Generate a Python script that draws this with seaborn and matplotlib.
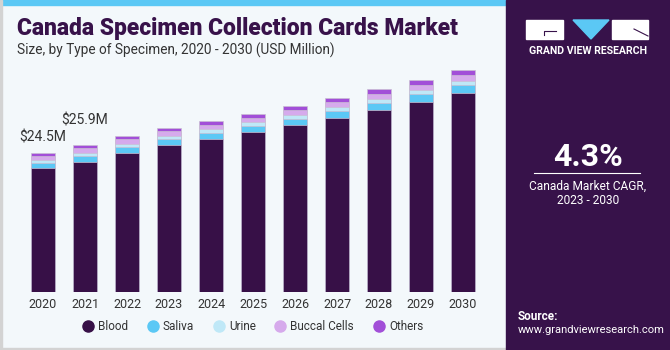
import numpy as np
import pandas as pd
import matplotlib
matplotlib.use("Agg")
import matplotlib.pyplot as plt
from matplotlib.lines import Line2D
from matplotlib.patches import Rectangle, Polygon
import seaborn as sns

years = ["2020", "2021", "2022", "2023", "2024", "2025", "2026", "2027", "2028", "2029", "2030"]
blood = [21.85, 23.02, 24.50, 25.97, 27.08, 28.26, 29.45, 30.79, 32.10, 33.56, 35.10]
saliva = [0.94, 1.00, 1.05, 1.04, 1.08, 1.10, 1.18, 1.23, 1.30, 1.38, 1.46]
urine = [0.56, 0.58, 0.60, 0.58, 0.60, 0.60, 0.63, 0.64, 0.66, 0.68, 0.70]
buccal = [0.70, 0.76, 0.80, 0.79, 0.82, 0.84, 0.90, 0.93, 0.96, 0.98, 1.00]
others = [0.45, 0.54, 0.61, 0.59, 0.62, 0.64, 0.70, 0.73, 0.78, 0.85, 0.90]
segments = ["Blood", "Saliva", "Urine", "Buccal Cells", "Others"]
colors = ["#371047", "#5bc8f5", "#bfe8f7", "#d6aaec", "#a24fd8"]
labels = {"2020": "$24.5M", "2021": "$25.9M"}
cagr = "4.3%"

W, H = 670, 350
plt.rcParams['font.family'] = ['Roboto', 'DejaVu Sans']
fig = plt.figure(figsize=(6.7, 3.5), dpi=100)
fig.patch.set_facecolor("#f3f8fb")

def fx(x):
    return x / W

def fy(y):
    return 1 - y / H

# top stripe and borders
fig.patches.append(Rectangle((0, fy(5)), fx(506), 5 / H, transform=fig.transFigure,
                             color="#5bc8f5", zorder=0))
fig.patches.append(Rectangle((0, 0), fx(2), 1, transform=fig.transFigure, color="#d3d3d3", zorder=0))
fig.patches.append(Rectangle((0, 0), fx(506), 2 / H, transform=fig.transFigure, color="#d3d3d3", zorder=0))

# right panel
fig.patches.append(Rectangle((fx(506), 0), 1 - fx(506), 1, transform=fig.transFigure,
                             color="#37124a", zorder=0))

# bottom gradient on right panel
gax = fig.add_axes([fx(506), 0, 1 - fx(506), 67 / H])
grad = np.linspace(0, 1, 100)[:, None]
top = np.array([0x3d, 0x25, 0x5e]) / 255
bot = np.array([0x55, 0xbb, 0xea]) / 255
img = top[None, None, :] * (1 - grad[..., None]) + bot[None, None, :] * grad[..., None]
img = np.repeat(img, 10, axis=1)
gax.imshow(img, aspect="auto", extent=[0, 1, 1, 0])
for k in range(14):
    gax.plot([k / 13, 0.5 + (k / 13 - 0.5) * 1.4], [0, 1], color="white", alpha=0.12, lw=0.6)
for yy in np.linspace(0.05, 0.95, 9):
    gax.plot([0, 1], [yy, yy + 0.03 * np.sin(yy * 9)], color="white", alpha=0.12, lw=0.6)
gax.set_xlim(0, 1)
gax.set_ylim(1, 0)
gax.axis("off")

# main axes
ax = fig.add_axes([fx(22), 58 / H, 462 / W, 237.8 / H])
ax.set_facecolor("none")
df = pd.DataFrame({"year": years, "Blood": blood, "Saliva": saliva, "Urine": urine,
                   "Buccal Cells": buccal, "Others": others})
cum = df[segments].cumsum(axis=1)
for seg, col in reversed(list(zip(segments, colors))):
    sns.barplot(data=cum.assign(year=df["year"]), x="year", y=seg, color=col, width=0.58,
                edgecolor="#c9bfd3", linewidth=0.5, ax=ax, order=years, saturation=1)
ax.set_xlim(-0.5, 10.5)
ax.set_ylim(0, 42)
for s in ax.spines.values():
    s.set_visible(False)
ax.set_yticks([])
ax.set_xlabel("")
ax.set_ylabel("")
ax.tick_params(axis="x", length=0, pad=4, labelsize=9, labelcolor="#333333")

totals = cum["Others"].tolist()
offs = {"2020": 11.5, "2021": 18}
for i, y in enumerate(years):
    if y in labels:
        ax.annotate(labels[y], xy=(i, totals[i]), xytext=(0, offs[y]), textcoords="offset points",
                    ha="center", va="center", fontsize=10, color="#333333")

# titles
fig.text(fx(17), fy(28), "Canada Specimen Collection Cards Market", fontsize=16.5,
         fontweight="black", color="#38124a", ha="left", va="center")
fig.text(fx(17), fy(50), "Size, by Type of Specimen, 2020 - 2030 (USD Million)", fontsize=9.8,
         color="#333333", ha="left", va="center")

# legend
handles = [Line2D([0], [0], marker="o", linestyle="", markersize=8, markerfacecolor=c,
                  markeredgecolor=c) for c in colors]
fig.legend(handles, segments, loc="center", bbox_to_anchor=(fx(251), fy(327)), ncol=5,
           frameon=False, fontsize=8.5, handletextpad=0.1, columnspacing=1.35,
           handlelength=1.5, labelcolor="#333333")

# logo
fig.patches.append(Rectangle((fx(526), fy(39)), fx(37), 19 / H, transform=fig.transFigure,
                             color="white", zorder=2))
fig.patches.append(Rectangle((fx(612), fy(39)), fx(36), 19 / H, transform=fig.transFigure,
                             color="white", zorder=2))
fig.patches.append(Polygon([(fx(573), fy(20)), (fx(609), fy(20)), (fx(591), fy(39))],
                           closed=True, transform=fig.transFigure, color="#5bc8f5", zorder=2))
fig.lines.append(Line2D([fx(544), fx(544), fx(556)], [fy(35), fy(31), fy(31)],
                        transform=fig.transFigure, color="#37124a", lw=0.8, zorder=3))
fig.lines.append(Line2D([fx(634), fx(648)], [fy(29), fy(36)],
                        transform=fig.transFigure, color="#37124a", lw=0.8, zorder=3))
fig.text(fx(588), fy(51), "GRAND VIEW RESEARCH", fontsize=7.6, fontweight="bold",
         color="white", ha="center", va="center")

# CAGR
fig.text(fx(588), fy(157), cagr, fontsize=23, fontweight="bold", color="white",
         ha="center", va="center")
fig.lines.append(Line2D([fx(534), fx(640)], [fy(173), fy(173)], transform=fig.transFigure,
                        color="white", lw=0.8))
fig.text(fx(588), fy(186), "Canada Market CAGR,", fontsize=8.6, color="white",
         ha="center", va="center")
fig.text(fx(588), fy(201), "2023 - 2030", fontsize=8.6, color="white",
         ha="center", va="center")

fig.text(fx(518), fy(316), "Source:", fontsize=8.5, fontweight="bold", color="white",
         ha="left", va="center")
fig.text(fx(518), fy(330), "www.grandviewresearch.com", fontsize=8, color="white",
         ha="left", va="center")

fig.savefig("out.png", dpi=100, facecolor=fig.get_facecolor())
